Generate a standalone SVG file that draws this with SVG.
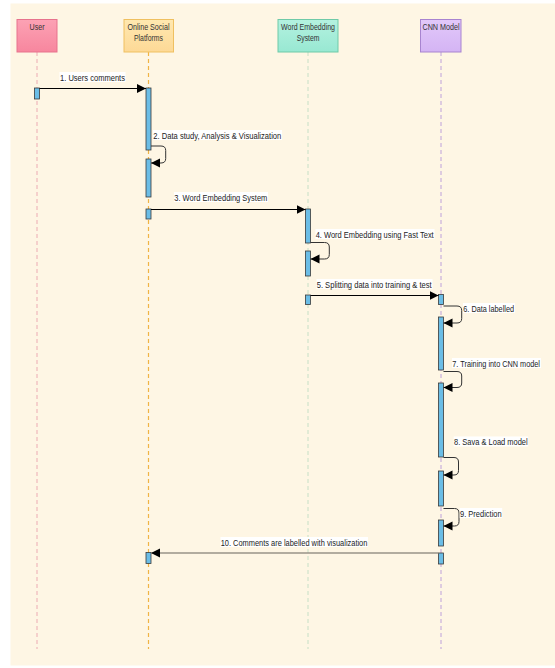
<svg xmlns="http://www.w3.org/2000/svg" width="555" height="668" viewBox="0 0 555 668">
<defs>
<linearGradient id="gUser" x1="0" y1="0" x2="0" y2="1"><stop offset="0" stop-color="#fca2b4"/><stop offset="1" stop-color="#f7869e"/></linearGradient>
<linearGradient id="gOsp" x1="0" y1="0" x2="0" y2="1"><stop offset="0" stop-color="#ffe8b0"/><stop offset="1" stop-color="#fdd996"/></linearGradient>
<linearGradient id="gWe" x1="0" y1="0" x2="0" y2="1"><stop offset="0" stop-color="#b4f2e0"/><stop offset="1" stop-color="#98e8d2"/></linearGradient>
<linearGradient id="gCnn" x1="0" y1="0" x2="0" y2="1"><stop offset="0" stop-color="#e2c8fa"/><stop offset="1" stop-color="#d4b4f4"/></linearGradient>
<marker id="arr" markerUnits="userSpaceOnUse" markerWidth="10" markerHeight="10" refX="9" refY="4.5" orient="auto">
<path d="M0,0 L9,4.5 L0,9 z" fill="#000"/>
</marker>
</defs>
<style>
.hdr{font-family:"Liberation Sans Narrow","Liberation Sans",Arial,sans-serif;font-size:9px;fill:#333}
.lbl{font-family:"Liberation Sans Narrow","Liberation Sans",Arial,sans-serif;font-size:9px;fill:#222}
.lbg{fill:#ffffff}
.life{fill:none;stroke-width:1.2;stroke-dasharray:4 3}
.act{fill:#6bbde6;stroke:#3a3a3a;stroke-width:0.8}
.msg{fill:none;stroke:#000;stroke-width:1.2;marker-end:url(#arr)}
.self{fill:none;stroke:#333;stroke-width:1;marker-end:url(#arr)}
.ret{fill:none;stroke:#999388;stroke-width:1.4;marker-end:url(#arr)}
</style>
<rect x="10.5" y="3.5" width="545" height="662" fill="#fef6e4"/>

<g id="user">
<line class="life" x1="37" y1="52" x2="37" y2="649" stroke="#eeb8bc"/>
<rect x="17" y="19.5" width="40" height="32.5" fill="url(#gUser)" stroke="#e7738d" stroke-width="1"/>
<text class="hdr" x="29.5" y="29.5" textLength="15" lengthAdjust="spacingAndGlyphs">User</text>
<rect class="act" x="34.5" y="88" width="5" height="11"/>
</g>

<g id="online-social-platforms">
<line class="life" x1="148.5" y1="52" x2="148.5" y2="649" stroke="#f0b445"/>
<rect x="124" y="19.5" width="49.5" height="32.5" fill="url(#gOsp)" stroke="#efc060" stroke-width="1"/>
<text class="hdr" x="127.5" y="29.5" textLength="42" lengthAdjust="spacingAndGlyphs">Online Social</text>
<text class="hdr" x="134" y="41" textLength="29" lengthAdjust="spacingAndGlyphs">Platforms</text>
<rect class="act" x="146" y="88" width="5" height="62"/>
<rect class="act" x="146" y="159" width="5" height="38"/>
<rect class="act" x="146" y="209" width="5" height="10"/>
<rect class="act" x="146" y="552.5" width="5" height="11"/>
</g>

<g id="word-embedding-system">
<line class="life" x1="308" y1="52" x2="308" y2="649" stroke="#cfe3cc"/>
<rect x="278" y="19.5" width="60" height="32.5" fill="url(#gWe)" stroke="#6fcaa8" stroke-width="1"/>
<text class="hdr" x="281" y="29.5" textLength="54" lengthAdjust="spacingAndGlyphs">Word Embedding</text>
<text class="hdr" x="296.7" y="41" textLength="22.7" lengthAdjust="spacingAndGlyphs">System</text>
<rect class="act" x="305.5" y="209" width="5" height="34"/>
<rect class="act" x="305.5" y="251" width="5" height="25"/>
<rect class="act" x="305.5" y="295" width="5" height="9.5"/>
</g>

<g id="cnn-model">
<line class="life" x1="441" y1="52" x2="441" y2="649" stroke="#c8b0dc"/>
<rect x="420.5" y="19.5" width="40.5" height="32.5" fill="url(#gCnn)" stroke="#a884d0" stroke-width="1"/>
<text class="hdr" x="422.5" y="29.5" textLength="37" lengthAdjust="spacingAndGlyphs">CNN Model</text>
<rect class="act" x="438.5" y="294.5" width="5" height="10"/>
<rect class="act" x="438.5" y="317" width="5" height="53"/>
<rect class="act" x="438.5" y="383" width="5" height="74"/>
<rect class="act" x="438.5" y="471" width="5" height="35"/>
<rect class="act" x="438.5" y="520" width="5" height="26"/>
<rect class="act" x="438.5" y="553" width="5" height="11"/>
</g>

<g id="connectors">
<path class="msg" d="M39.5,88.5 H146"/>
<path class="self" d="M151,146 H161 Q165.7,146 165.7,150.5 V158.5 Q165.7,163 161,163 H151"/>
<path class="msg" d="M151,209.5 H305.5"/>
<path class="self" d="M310.5,242.5 H324.5 Q329.3,242.5 329.3,247 V254.5 Q329.3,259 324.5,259 H310.5"/>
<path class="msg" d="M310.5,295.5 H438.5"/>
<path class="self" d="M443.5,306 H457 Q461.7,306 461.7,310.5 V318.5 Q461.7,323 457,323 H443.5"/>
<path class="self" d="M443.5,371.5 H457 Q461.7,371.5 461.7,376 V383 Q461.7,387.5 457,387.5 H443.5"/>
<path class="self" d="M443.5,457.5 H454 Q458.5,457.5 458.5,462 V470.5 Q458.5,475 454,475 H443.5"/>
<path class="self" d="M443.5,508.5 H454.5 Q459,508.5 459,513 V521.5 Q459,526 454.5,526 H443.5"/>
<path class="ret" d="M438.5,553 H151"/>
</g>

<g id="labels">
<rect class="lbg" x="59.5" y="72" width="66" height="10"/>
<text class="lbl" x="60" y="80.5" textLength="65" lengthAdjust="spacingAndGlyphs">1. Users comments</text>
<rect class="lbg" x="153" y="130" width="129" height="10"/>
<text class="lbl" x="153.3" y="138.5" textLength="128" lengthAdjust="spacingAndGlyphs">2. Data study, Analysis &amp; Visualization</text>
<rect class="lbg" x="174" y="192" width="94" height="10"/>
<text class="lbl" x="174.3" y="200.5" textLength="93" lengthAdjust="spacingAndGlyphs">3. Word Embedding System</text>
<rect class="lbg" x="315.5" y="229" width="119" height="10"/>
<text class="lbl" x="315.7" y="237.5" textLength="118" lengthAdjust="spacingAndGlyphs">4. Word Embedding using Fast Text</text>
<rect class="lbg" x="316.5" y="279" width="116" height="10"/>
<text class="lbl" x="316.7" y="287.5" textLength="115" lengthAdjust="spacingAndGlyphs">5. Splitting data into training &amp; test</text>
<rect class="lbg" x="463" y="303" width="52" height="10"/>
<text class="lbl" x="463.3" y="311.5" textLength="50.7" lengthAdjust="spacingAndGlyphs">6. Data labelled</text>
<rect class="lbg" x="452" y="358" width="89" height="10"/>
<text class="lbl" x="452.3" y="366.5" textLength="87.7" lengthAdjust="spacingAndGlyphs">7. Training into CNN model</text>
<rect class="lbg" x="453.7" y="436.5" width="74.5" height="10"/>
<text class="lbl" x="454" y="445" textLength="73.7" lengthAdjust="spacingAndGlyphs">8. Sava &amp; Load model</text>
<rect class="lbg" x="459.7" y="508" width="42.5" height="10"/>
<text class="lbl" x="460" y="516.5" textLength="41.7" lengthAdjust="spacingAndGlyphs">9. Prediction</text>
<rect class="lbg" x="220.5" y="537" width="147.5" height="10"/>
<text class="lbl" x="220.7" y="545.5" textLength="146.7" lengthAdjust="spacingAndGlyphs">10. Comments are labelled with visualization</text>
</g>
</svg>
